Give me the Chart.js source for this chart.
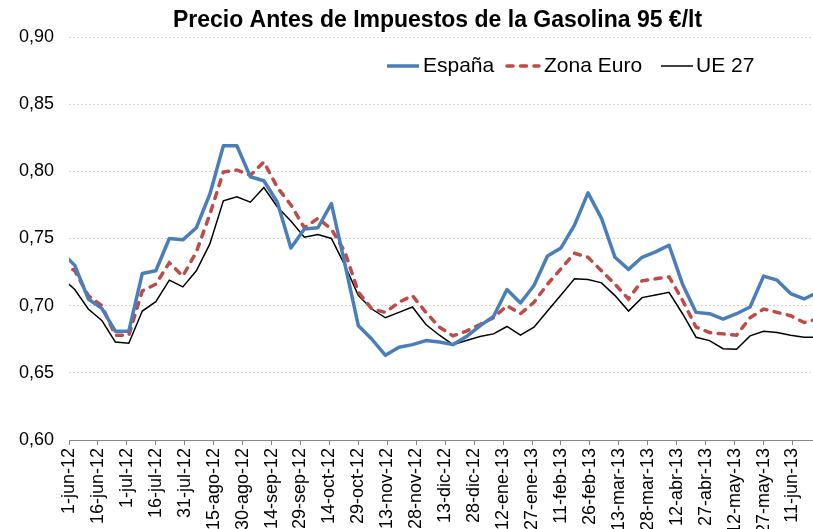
<!DOCTYPE html>
<html>
<head>
<meta charset="utf-8">
<script src="https://cdn.jsdelivr.net/npm/chart.js@4.4.1/dist/chart.umd.min.js"></script>
<style>
  html, body { margin: 0; padding: 0; overflow: hidden; background: #fff; }
  #wrap { width: 813px; height: 529px; overflow: hidden; }
</style>
</head>
<body>
<div id="wrap"><canvas id="chart" width="875" height="529"></canvas></div>
<script>
// weekly observations (Mondays); the first one falls before the axis start and is clipped
const weekDates = [
  '2012-05-28', '2012-06-04', '2012-06-11', '2012-06-18', '2012-06-25',
  '2012-07-02', '2012-07-09', '2012-07-16', '2012-07-23', '2012-07-30',
  '2012-08-06', '2012-08-13', '2012-08-20', '2012-08-27', '2012-09-03',
  '2012-09-10', '2012-09-17', '2012-09-24', '2012-10-01', '2012-10-08',
  '2012-10-15', '2012-10-22', '2012-10-29', '2012-11-05', '2012-11-12',
  '2012-11-19', '2012-11-26', '2012-12-03', '2012-12-10', '2012-12-17',
  '2012-12-24', '2012-12-31', '2013-01-07', '2013-01-14', '2013-01-21',
  '2013-01-28', '2013-02-04', '2013-02-11', '2013-02-18', '2013-02-25',
  '2013-03-04', '2013-03-11', '2013-03-18', '2013-03-25', '2013-04-01',
  '2013-04-08', '2013-04-15', '2013-04-22', '2013-04-29', '2013-05-06',
  '2013-05-13', '2013-05-20', '2013-05-27', '2013-06-03', '2013-06-10',
  '2013-06-17', '2013-06-24'
];

const espana = [
  0.740, 0.730, 0.705, 0.698, 0.681, 0.681, 0.724, 0.726, 0.750, 0.749,
  0.758, 0.783, 0.819, 0.819, 0.796, 0.793, 0.777, 0.743, 0.757, 0.758,
  0.776, 0.731, 0.685, 0.675, 0.663, 0.669, 0.671, 0.674, 0.673, 0.671,
  0.677, 0.685, 0.692, 0.712, 0.702, 0.715, 0.737, 0.743, 0.760, 0.784,
  0.765, 0.736, 0.727, 0.736, 0.740, 0.745, 0.716, 0.695, 0.694, 0.690,
  0.694, 0.699, 0.722, 0.719, 0.709, 0.705, 0.710
];

const zonaEuro = [
  0.732, 0.726, 0.7075, 0.700, 0.678, 0.678, 0.711, 0.716, 0.732, 0.722,
  0.740, 0.768, 0.7995, 0.801, 0.797, 0.807, 0.788, 0.775, 0.758, 0.765,
  0.757, 0.740, 0.710, 0.6975, 0.695, 0.7025, 0.7075, 0.695, 0.684, 0.6775,
  0.681, 0.686, 0.691, 0.700, 0.694, 0.7025, 0.716, 0.7275, 0.739, 0.736,
  0.726, 0.716, 0.705, 0.7185, 0.720, 0.7215, 0.704, 0.684, 0.680, 0.679,
  0.678, 0.691, 0.6975, 0.695, 0.6925, 0.6875, 0.690
];

const ue27 = [
  0.721, 0.712, 0.6975, 0.689, 0.673, 0.672, 0.696, 0.703, 0.719, 0.714,
  0.726, 0.746, 0.778, 0.781, 0.777, 0.788, 0.7735, 0.763, 0.751, 0.753,
  0.750, 0.730, 0.7075, 0.6975, 0.691, 0.695, 0.699, 0.686, 0.678, 0.671,
  0.674, 0.677, 0.679, 0.6845, 0.678, 0.684, 0.696, 0.708, 0.720, 0.7195,
  0.717, 0.7075, 0.696, 0.706, 0.708, 0.710, 0.694, 0.6765, 0.674, 0.668,
  0.6675, 0.6775, 0.681, 0.680, 0.678, 0.6765, 0.6765
];

// axis labels every 15 days starting 1-jun-12
const tickLabels = [
  '1-jun-12', '16-jun-12', '1-jul-12', '16-jul-12', '31-jul-12', '15-ago-12',
  '30-ago-12', '14-sep-12', '29-sep-12', '14-oct-12', '29-oct-12', '13-nov-12',
  '28-nov-12', '13-dic-12', '28-dic-12', '12-ene-13', '27-ene-13', '11-feb-13',
  '26-feb-13', '13-mar-13', '28-mar-13', '12-abr-13', '27-abr-13', '12-may-13',
  '27-may-13', '11-jun-13', '26-jun-13', '11-jul-13'
];

const axisStart = Date.UTC(2012, 5, 1);
const dayOf = (s) => {
  const [y, m, d] = s.split('-').map(Number);
  return (Date.UTC(y, m - 1, d) - axisStart) / 86400000;
};
const toPoints = (vals) => vals.map((v, i) => ({ x: dayOf(weekDates[i]), y: v }));

// legend drawn inside the plot, top right
const insideLegend = {
  id: 'insideLegend',
  afterDatasetsDraw(chart, args, opts) {
    const ctx = chart.ctx;
    ctx.save();
    ctx.font = opts.font;
    ctx.textBaseline = 'middle';
    ctx.textAlign = 'left';
    chart.data.datasets.forEach((ds, i) => {
      const it = opts.items[i];
      ctx.beginPath();
      ctx.setLineDash(ds.borderDash || []);
      ctx.lineCap = ds.borderCapStyle || 'butt';
      ctx.lineWidth = ds.borderWidth;
      ctx.strokeStyle = ds.borderColor;
      ctx.moveTo(it.line, opts.y);
      ctx.lineTo(it.line + opts.sample, opts.y);
      ctx.stroke();
      ctx.setLineDash([]);
      ctx.fillStyle = '#000';
      ctx.fillText(ds.label, it.text, opts.y);
    });
    ctx.restore();
  }
};

const ctx = document.getElementById('chart').getContext('2d');
new Chart(ctx, {
  type: 'line',
  data: {
    datasets: [
      {
        label: 'España',
        data: toPoints(espana),
        borderColor: '#4A7EBB',
        borderWidth: 3.5,
        borderJoinStyle: 'round',
        pointRadius: 0,
        tension: 0
      },
      {
        label: 'Zona Euro',
        data: toPoints(zonaEuro),
        borderColor: '#BE4B48',
        borderWidth: 3.5,
        borderDash: [6, 7.5],
        borderCapStyle: 'round',
        pointRadius: 0,
        tension: 0
      },
      {
        label: 'UE 27',
        data: toPoints(ue27),
        borderColor: '#000000',
        borderWidth: 1.5,
        pointRadius: 0,
        tension: 0
      }
    ]
  },
  options: {
    responsive: false,
    animation: false,
    devicePixelRatio: 1,
    layout: { padding: 0 },
    font: { family: '"Liberation Sans", Arial, sans-serif' },
    plugins: {
      legend: { display: false },
      tooltip: { enabled: false },
      title: {
        display: true,
        text: 'Precio Antes de Impuestos de la Gasolina 95 €/lt',
        color: '#000',
        font: { family: '"Liberation Sans", Arial, sans-serif', size: 23, weight: 'bold' },
        padding: { top: 7, bottom: 2.4 }
      },
      insideLegend: {
        font: '21px "Liberation Sans", Arial, sans-serif',
        y: 66,
        sample: 32,
        items: [
          { line: 387, text: 423 },
          { line: 507, text: 544 },
          { line: 661, text: 696 }
        ]
      }
    },
    scales: {
      x: {
        type: 'linear',
        min: 0,
        max: 405,
        afterFit(scale) { scale.height = 89; },
        ticks: {
          stepSize: 15,
          autoSkip: false,
          minRotation: 90,
          maxRotation: 90,
          color: '#000',
          padding: 3,
          font: { family: '"Liberation Sans", Arial, sans-serif', size: 18 },
          callback: (value, index) => tickLabels[index]
        },
        grid: {
          drawOnChartArea: false,
          drawTicks: true,
          tickLength: 5,
          color: '#868686'
        },
        border: { display: true, color: '#868686', width: 1 }
      },
      y: {
        min: 0.6,
        max: 0.9,
        afterFit(scale) { scale.width = 69; },
        ticks: {
          stepSize: 0.05,
          color: '#000',
          padding: 15,
          font: { family: '"Liberation Sans", Arial, sans-serif', size: 18 },
          callback: (v) => v.toFixed(2).replace('.', ',')
        },
        grid: {
          drawTicks: false,
          color: '#d6d6c2',
          lineWidth: 1
        },
        border: { display: false, dash: [2, 2] }
      }
    }
  },
  plugins: [insideLegend]
});
</script>
</body>
</html>
